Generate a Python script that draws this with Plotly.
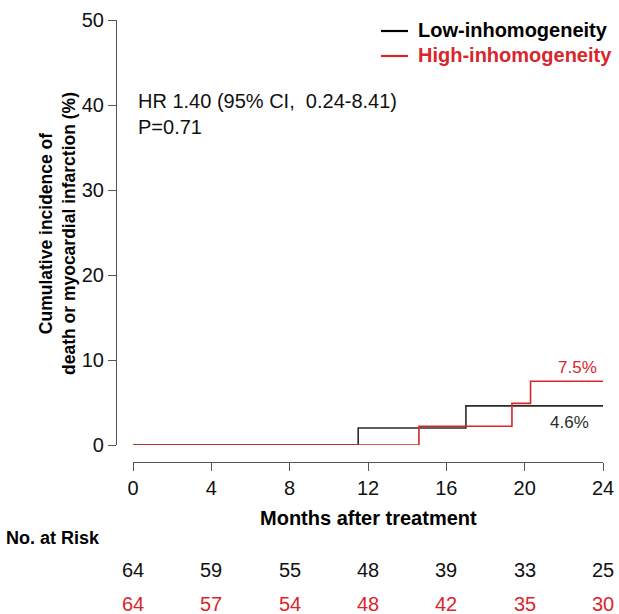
import plotly.graph_objects as go

# ---- data ----
months_ticks = [0, 4, 8, 12, 16, 20, 24]
y_ticks = [0, 10, 20, 30, 40, 50]
low_x = [0, 11.5, 17.0, 24]
low_y = [0, 2.0, 4.6, 4.6]
high_x = [0, 14.6, 19.35, 20.3, 24]
high_y = [0, 2.2, 4.9, 7.5, 7.5]
risk_low = [64, 59, 55, 48, 39, 33, 25]
risk_high = [64, 57, 54, 48, 42, 35, 30]
low_name = "Low-inhomogeneity"
high_name = "High-inhomogeneity"
low_final = "4.6%"
high_final = "7.5%"

BLACK = "#2b2b2b"
RED = "#d9262b"
FONT = "Liberation Sans, Arial, sans-serif"

W, H = 619, 614
# plot area in page pixels
L_PX, R_PX, T_PX, B_PX = 116, 603, 20, 462
ML, MR, MT, MB = L_PX, W - R_PX, T_PX, H - B_PX
PW = W - ML - MR
PH = H - MT - MB


def px_x(p):
    return (p - ML) / PW


def px_y(p):
    return (H - MB - p) / PH


fig = go.Figure()
fig.add_trace(go.Scatter(x=low_x, y=low_y, mode="lines", line=dict(color=BLACK, width=1.6, shape="hv"),
                         name=low_name, showlegend=False, hoverinfo="skip"))
fig.add_trace(go.Scatter(x=high_x, y=high_y, mode="lines", line=dict(color=RED, width=1.6, shape="hv"),
                         name=high_name, showlegend=False, hoverinfo="skip"))

ann = []


def add_text(text, x, y, xref="paper", yref="paper", size=20, color="#111", xanchor="center", **kw):
    ann.append(dict(x=x, y=y, xref=xref, yref=yref, text=text, showarrow=False, xanchor=xanchor,
                    yanchor="middle", font=dict(size=size, color=color, family=FONT), **kw))


# final percentages
add_text(high_final, 22.7, 9.1, xref="x", yref="y", size=17, color=RED)
add_text(low_final, 22.3, 2.6, xref="x", yref="y", size=17, color=BLACK)
# HR text
add_text("HR 1.40 (95% CI,  0.24-8.41)<br>P=0.71", px_x(136), px_y(114), xanchor="left", align="left")
# legend
for i, (nm, col) in enumerate([(low_name, "#000"), (high_name, RED)]):
    add_text("<b>%s</b>" % nm, px_x(416), px_y(30 + 25 * i), xanchor="left", color=col)
shapes = []
for i, col in enumerate(["#000", RED]):
    yy = 31 + 25 * i
    shapes.append(dict(type="line", xref="paper", yref="paper", x0=px_x(381), x1=px_x(408),
                       y0=px_y(yy), y1=px_y(yy), line=dict(color=col, width=2.2)))
# y title
add_text("<b>Cumulative incidence of<br>death or myocardial infarction (%)</b>", px_x(58), px_y(234),
         size=17.5, color="#000", textangle=-90)
# x title
add_text("<b>Months after treatment</b>", 12, px_y(518), xref="x", color="#000")
# No. at risk
add_text("<b>No. at Risk</b>", px_x(4), px_y(538), xanchor="left", size=18, color="#000")
for m, a, b in zip(months_ticks, risk_low, risk_high):
    add_text(str(a), m, px_y(570), xref="x", color="#111")
    add_text(str(b), m, px_y(604), xref="x", color=RED)

fig.update_layout(
    width=W, height=H,
    margin=dict(l=ML, r=MR, t=MT, b=MB, autoexpand=False),
    paper_bgcolor="white", plot_bgcolor="white",
    font=dict(family=FONT, size=20, color="#111"),
    xaxis=dict(range=[0, 24], domain=[px_x(133), px_x(603)], anchor="free", position=0,
               tickvals=months_ticks, ticks="outside", ticklen=8, tickcolor="#555",
               showline=True, linecolor="#555", linewidth=1.2, showgrid=False, zeroline=False,
               automargin=False, tickfont=dict(size=20, color="#111")),
    yaxis=dict(range=[0, 50], domain=[px_y(445), 1], anchor="free", position=0,
               tickvals=y_ticks, ticks="outside", ticklen=8, tickcolor="#555",
               showline=True, linecolor="#555", linewidth=1.2, showgrid=False, zeroline=False,
               automargin=False, tickfont=dict(size=20, color="#111")),
    annotations=ann, shapes=shapes, showlegend=False,
)

fig.write_html("out.html", config={"displayModeBar": False},
               post_script="document.body.style.margin='0';document.body.style.overflow='hidden';")
